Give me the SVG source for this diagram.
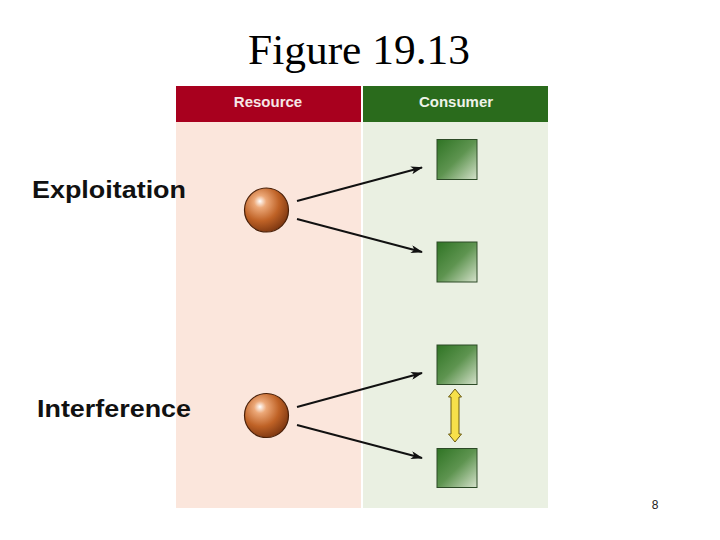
<svg xmlns="http://www.w3.org/2000/svg" width="720" height="540" viewBox="0 0 720 540">
<style>
.lbl{font-family:"Liberation Sans",Arial,sans-serif;font-weight:bold;font-size:23px;fill:#111}
.hdr{font-family:"Liberation Sans",Arial,sans-serif;font-weight:bold;font-size:15px;text-anchor:middle}
.conn{stroke:#111;stroke-width:2;fill:none;marker-end:url(#ah)}
.sq{fill:url(#sqg);stroke:#2c4a26;stroke-width:1}
.sph{fill:url(#spg);stroke:#4a2008;stroke-width:1.2}
</style>
<defs>
<marker id="ah" markerWidth="12" markerHeight="8" refX="11" refY="4" orient="auto" markerUnits="userSpaceOnUse">
<path d="M0,0 L12,4 L0,8 L3,4 Z" fill="#111"/>
</marker>
<linearGradient id="sqg" x1="0" y1="0" x2="1" y2="1">
<stop offset="0" stop-color="#2f7424"/>
<stop offset="0.5" stop-color="#5e9450"/>
<stop offset="1" stop-color="#d6e2cc"/>
</linearGradient>
<radialGradient id="spg" cx="0.38" cy="0.35" r="0.7" fx="0.35" fy="0.3">
<stop offset="0" stop-color="#ffffff"/>
<stop offset="0.2" stop-color="#eca878"/>
<stop offset="0.6" stop-color="#bf6226"/>
<stop offset="1" stop-color="#7a3510"/>
</radialGradient>
</defs>
<rect width="720" height="540" fill="#ffffff"/>
<text x="359" y="64" font-family="'Liberation Serif','Times New Roman',serif" font-size="43" text-anchor="middle" fill="#000" textLength="222" lengthAdjust="spacingAndGlyphs">Figure 19.13</text>
<g id="panels">
<rect x="176" y="122" width="185" height="386" fill="#fbe6dc"/>
<rect x="363" y="122" width="185" height="386" fill="#eaf0e2"/>
</g>
<g id="header-resource">
<rect x="176" y="86" width="185" height="36" fill="#a8001e"/>
<text class="hdr" x="268" y="107" fill="#f6e6e6">Resource</text>
</g>
<g id="header-consumer">
<rect x="363" y="86" width="185" height="36" fill="#2a6b1c"/>
<text class="hdr" x="456" y="107" fill="#eef3e8">Consumer</text>
</g>
<g id="label-exploitation">
<text class="lbl" x="32" y="198" textLength="154" lengthAdjust="spacingAndGlyphs">Exploitation</text>
</g>
<g id="label-interference">
<text class="lbl" x="37" y="417" textLength="154" lengthAdjust="spacingAndGlyphs">Interference</text>
</g>
<g id="resource1"><circle class="sph" cx="266.5" cy="210" r="22"/></g>
<g id="resource2"><circle class="sph" cx="266.5" cy="415.5" r="22"/></g>
<g id="consumer1"><rect class="sq" x="437" y="139.5" width="40" height="40"/></g>
<g id="consumer2"><rect class="sq" x="437" y="242" width="40" height="40"/></g>
<g id="consumer3"><rect class="sq" x="437" y="345" width="40" height="39.5"/></g>
<g id="consumer4"><rect class="sq" x="437" y="448.5" width="40" height="39"/></g>
<g id="connectors">
<line class="conn" x1="297" y1="201" x2="422" y2="167.5"/>
<line class="conn" x1="297" y1="219" x2="422" y2="252"/>
<line class="conn" x1="297" y1="407" x2="422" y2="373"/>
<line class="conn" x1="297" y1="425" x2="422" y2="458"/>
<path d="M455,389 L461.5,397 L459,397 L459,434 L461.5,434 L455,442 L448.5,434 L451,434 L451,397 L448.5,397 Z" fill="#f7e04a" stroke="#6a5a10" stroke-width="1"/>
</g>
<text x="655" y="509" font-family="'Liberation Sans',Arial,sans-serif" font-size="12" text-anchor="middle" fill="#222">8</text>
</svg>
